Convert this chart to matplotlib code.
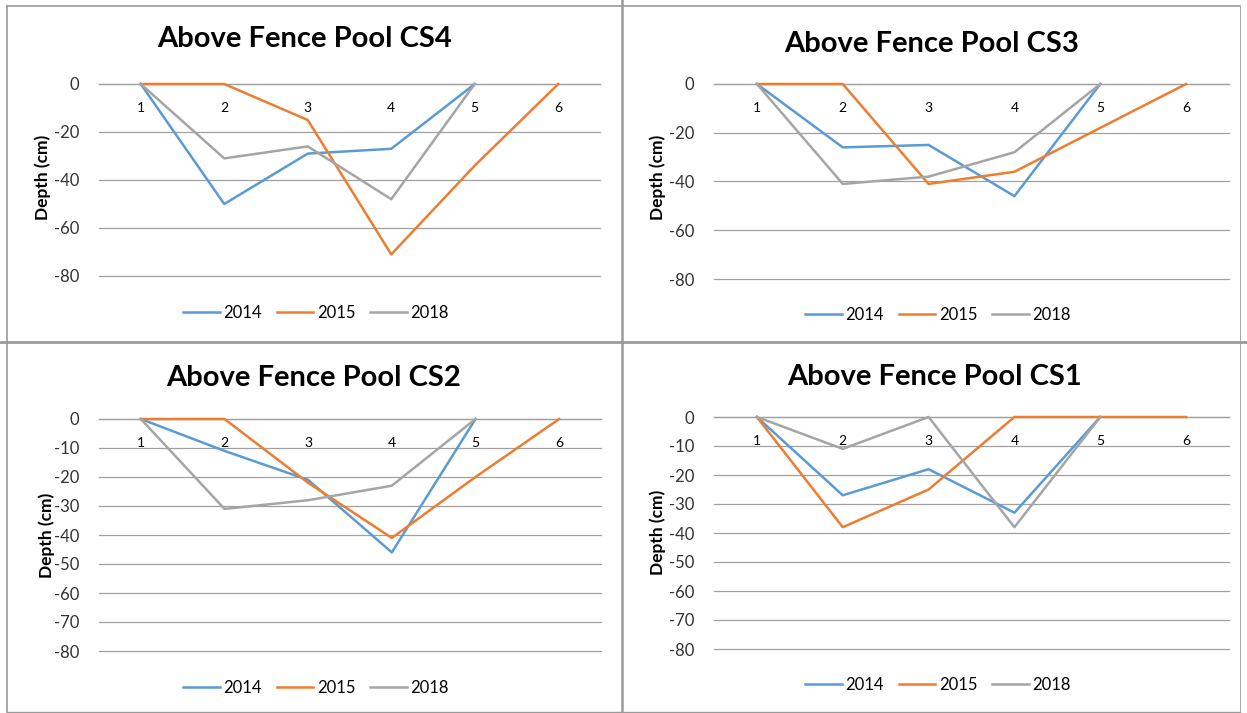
import numpy as np
import matplotlib
matplotlib.use("Agg")
import matplotlib.pyplot as plt
from matplotlib.lines import Line2D

plt.rcParams['font.family'] = ['Lato', 'DejaVu Sans']

# station numbers along the cross section
stations = [1, 2, 3, 4, 5, 6]
years = ['2014', '2015', '2018']

# depths (cm); 2014 and 2018 end at station 5
cs4_2014 = [0, -50, -29, -27, 0]
cs4_2015 = [0, 0, -15, -71, -34, 0]
cs4_2018 = [0, -31, -26, -48, 0]

cs3_2014 = [0, -26, -25, -46, 0]
cs3_2015 = [0, 0, -41, -36, -18, 0]
cs3_2018 = [0, -41, -38, -28, 0]

cs2_2014 = [0, -11, -21, -46, 0]
cs2_2015 = [0, 0, -22, -41, -20, 0]
cs2_2018 = [0, -31, -28, -23, 0]

cs1_2014 = [0, -27, -18, -33, 0]
cs1_2015 = [0, -38, -25, 0, 0, 0]
cs1_2018 = [0, -11, 0, -38, 0]

colors = ['#5b9bd5', '#ed7d31', '#a5a5a5']
W, H = 1247, 713

fig = plt.figure(figsize=(W / 100, H / 100), dpi=100)


def px_axes(x0, y0, x1, y1):
    # pixel box (top-left origin) -> figure fraction
    return fig.add_axes([x0 / W, 1 - y1 / H, (x1 - x0) / W, (y1 - y0) / H])


def draw_panel(box, title, title_xy, ylab_xy, leg_xy, series, yticks):
    ax = px_axes(*box)
    for vals, c, lab in zip(series, colors, years):
        ax.plot(stations[:len(vals)], vals, color=c, lw=1.8, label=lab,
                clip_on=False, zorder=3)
    ax.set_xlim(0.5, 6.5)
    ax.set_ylim(-80, 0)
    ax.set_yticks(yticks)
    ax.set_yticklabels([str(v) for v in yticks], fontsize=12, color='#333333')
    ax.set_xticks(stations)
    ax.set_xticklabels([str(s) for s in stations], fontsize=12, color='#333333')
    for s in ['top', 'left', 'right']:
        ax.spines[s].set_visible(False)
    ax.spines['bottom'].set_position(('data', 0))
    ax.spines['bottom'].set_color('#a0a0a0')
    ax.spines['bottom'].set_linewidth(0.9)
    ax.tick_params(axis='both', length=0)
    ax.tick_params(axis='x', pad=13)
    ax.tick_params(axis='y', pad=14)
    ax.grid(axis='y', color='#a0a0a0', lw=0.9)
    for gl in ax.get_ygridlines():
        gl.set_clip_on(False)
    ax.set_axisbelow(True)
    fig.text(title_xy[0] / W, 1 - title_xy[1] / H, title, fontsize=21,
             fontweight='bold', ha='center', va='center')
    fig.text(ylab_xy[0] / W, 1 - ylab_xy[1] / H, 'Depth (cm)', fontsize=12.5,
             fontweight='bold', rotation=90, ha='center', va='center')
    fig.legend(handles=ax.get_lines(), labels=years, loc='center',
               bbox_to_anchor=(leg_xy[0] / W, 1 - leg_xy[1] / H), ncol=3,
               frameon=False, fontsize=12, handlelength=2.2, handletextpad=0.2,
               columnspacing=0.9)
    return ax


draw_panel((99, 84, 600, 276), 'Above Fence Pool CS4', (305, 39), (43, 177),
           (316, 313), [cs4_2014, cs4_2015, cs4_2018], [0, -20, -40, -60, -80])
draw_panel((714, 84, 1229, 279), 'Above Fence Pool CS3', (932, 44), (658, 177),
           (938, 315), [cs3_2014, cs3_2015, cs3_2018], [0, -20, -40, -60, -80])
draw_panel((99, 419, 601, 651), 'Above Fence Pool CS2', (314, 378), (47, 535),
           (316, 688), [cs2_2014, cs2_2015, cs2_2018], list(range(0, -90, -10)))
draw_panel((714, 417, 1229, 649), 'Above Fence Pool CS1', (935, 377), (658, 532),
           (938, 685), [cs1_2014, cs1_2015, cs1_2018], list(range(0, -90, -10)))

# chart frames from the screenshot
frame = '#9a9a9a'
for (x0, y0, x1, y1, lw) in [(7, 6, 7, 712, 1.2), (7, 6, 1240, 6, 1.2),
                             (622, 0, 622, 713, 1.8), (0, 342, 1247, 342, 2.0),
                             (7, 712, 1240, 712, 1.0), (1240, 6, 1240, 712, 0.6)]:
    fig.add_artist(Line2D([x0 / W, x1 / W], [1 - y0 / H, 1 - y1 / H],
                          color=frame, lw=lw, transform=fig.transFigure))

fig.savefig('out.png', dpi=100, facecolor='white')
